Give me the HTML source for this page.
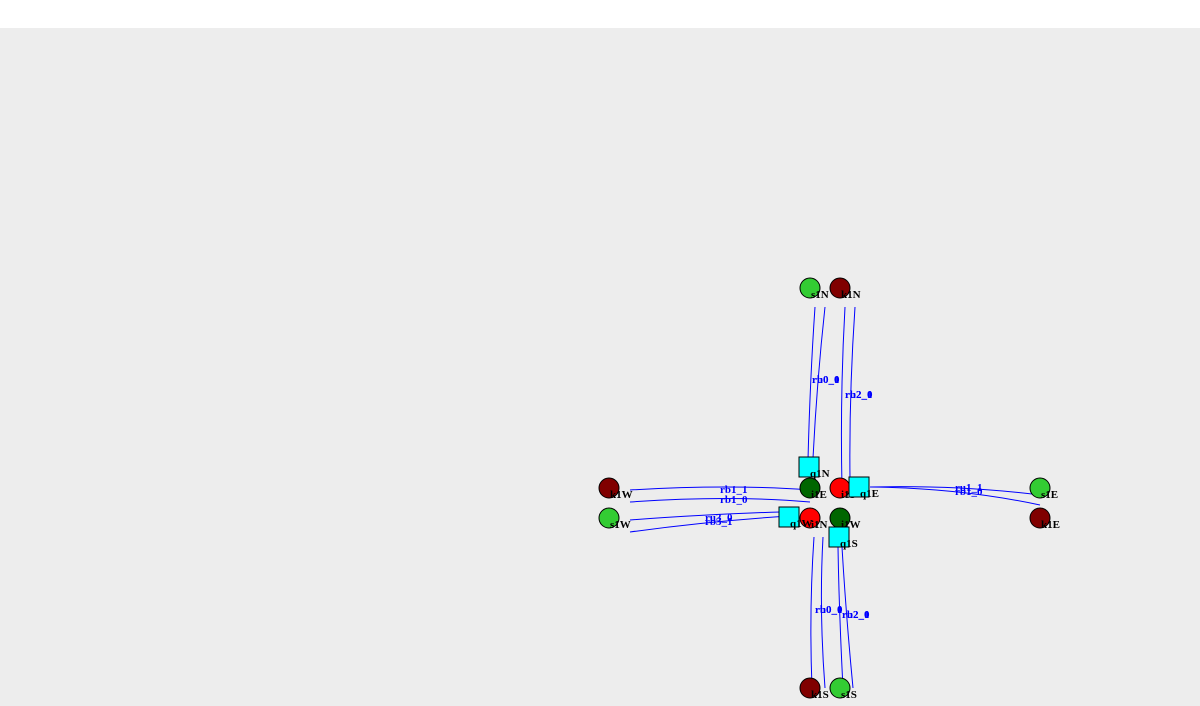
<!DOCTYPE html>
<html><head><meta charset="utf-8"><style>
html,body{margin:0;padding:0;background:#fff;width:1200px;height:706px;overflow:hidden}
svg{display:block}
text{font-family:"Liberation Serif",serif;font-weight:bold}
</style></head><body>
<svg id="g" width="1200" height="706">
<rect x="0" y="28" width="1200" height="678" fill="#ededed"/>
</svg>
<script>
const nodeNames=["s1N","k1N","i1E","i1S","k1W","s1W","i1N","i1W","s1E","k1E","k1S","s1S"];
const nodeX=[810,840,810,840,609,609,810,840,1040,1040,810,840];
const nodeY=[288,288,488,488,488,518,518,518,488,518,688,688];
const nodeFill=["#33cc33","#800000","#006600","#ff0000","#800000","#33cc33","#ff0000","#006600","#33cc33","#800000","#800000","#33cc33"];
const queueNames=["q1N","q1E","q1W","q1S"];
const queueX=[809,859,789,839];
const queueY=[467,487,517,537];
const edgeNames=["ru0_0","rb0_1","ru2_0","rb2_1","rb1_1","rb1_0","ru3_0","rb3_1","ru1_1","rb1_0e","rb0_0","ru0_1","rb2_0","ru2_1"];
const edgePts=[
 [[815,307],[810,380],[808,460]],
 [[825,307],[817,380],[813,458]],
 [[845,307],[840,395],[842,488]],
 [[855,307],[849,395],[850,480]],
 [[630,490],[730,484],[810,490]],
 [[630,502],[730,495],[810,502]],
 [[630,520],[710,514],[780,512]],
 [[630,532],[710,521],[790,516]],
 [[870,487],[960,485],[1040,495]],
 [[870,487],[960,488],[1040,505]],
 [[814,537],[809,610],[812,688]],
 [[823,537],[819,610],[825,688]],
 [[838,547],[839,610],[843,688]],
 [[842,547],[846,615],[853,688]]];
const edgeLabelX=[812,812,845,845,720,720,705,705,955,955,815,815,842,842];
const edgeLabelY=[383,383,398,398,493,503,521,525,491,495,613,613,618,618];
const NS="http://www.w3.org/2000/svg";
const svg=document.getElementById("g");
function mk(t,a){const e=document.createElementNS(NS,t);for(const k in a)e.setAttribute(k,a[k]);svg.appendChild(e);return e;}
edgePts.forEach((p,i)=>{
 const e=mk("path",{d:`M${p[0][0]},${p[0][1]} Q${p[1][0]},${p[1][1]} ${p[2][0]},${p[2][1]}`,fill:"none",stroke:"#0000ff","stroke-width":1});
 
 
 const t=mk("text",{x:edgeLabelX[i],y:edgeLabelY[i],"font-size":11,fill:"#0000ff"});
 t.textContent=edgeNames[i].replace(/e$/,"");
 
 
});
nodeNames.forEach((n,i)=>{
 const c=mk("circle",{cx:nodeX[i],cy:nodeY[i],r:10,fill:nodeFill[i],stroke:"#000","stroke-width":1});
 
 
 const t=mk("text",{x:nodeX[i]+1,y:nodeY[i]+10,"font-size":11,fill:"#000"});
 t.textContent=n;
 
 
});
queueNames.forEach((n,i)=>{
 const r=mk("rect",{x:queueX[i]-10,y:queueY[i]-10,width:20,height:20,fill:"#00ffff",stroke:"#000","stroke-width":1});
 
 
 const t=mk("text",{x:queueX[i]+1,y:queueY[i]+10,"font-size":11,fill:"#000"});
 t.textContent=n;
 
 
});
</script>
</body></html>
